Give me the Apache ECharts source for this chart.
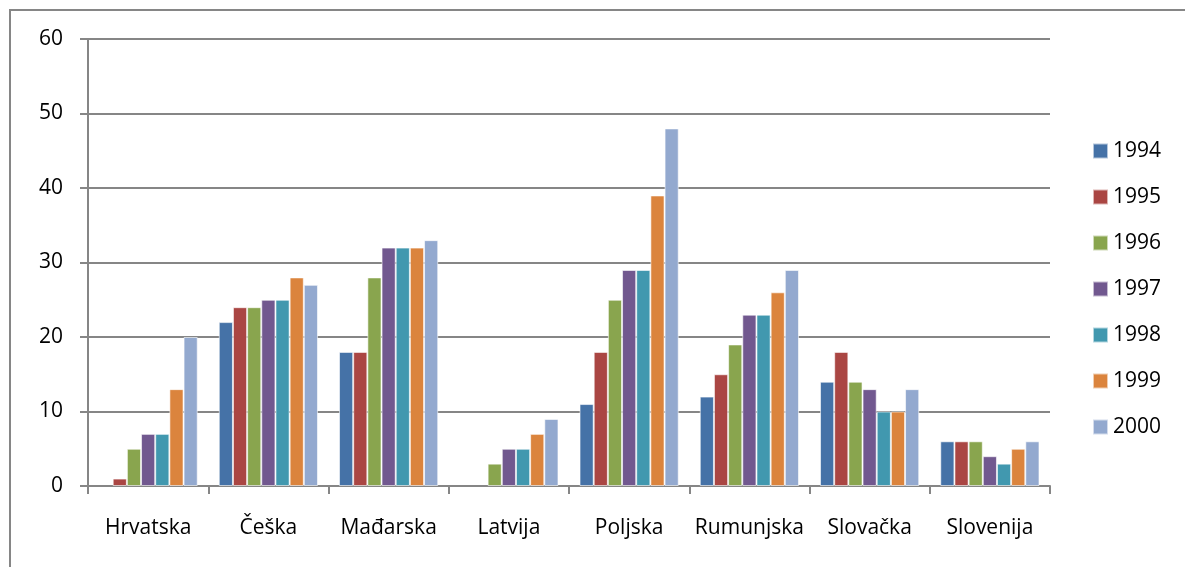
<!DOCTYPE html>
<html>
<head>
<meta charset="utf-8">
<script src="https://cdn.jsdelivr.net/npm/echarts@6/dist/echarts.min.js"></script>
<style>
  html, body { margin: 0; padding: 0; background: #fff; }
  #chart { width: 1185px; height: 567px; }
</style>
</head>
<body>
<div id="chart"></div>
<script>
const countries = ['Hrvatska', 'Češka', 'Mađarska', 'Latvija', 'Poljska', 'Rumunjska', 'Slovačka', 'Slovenija'];
const years = ['1994', '1995', '1996', '1997', '1998', '1999', '2000'];
const colors = ['#4572A7', '#AA4643', '#89A54E', '#71588F', '#4198AF', '#DB843D', '#93A9CF'];

// one array per year, values in country order
const y1994 = [0, 22, 18, 0, 11, 12, 14, 6];
const y1995 = [1, 24, 18, 0, 18, 15, 18, 6];
const y1996 = [5, 24, 28, 3, 25, 19, 14, 6];
const y1997 = [7, 25, 32, 5, 29, 23, 13, 4];
const y1998 = [7, 25, 32, 5, 29, 23, 10, 3];
const y1999 = [13, 28, 32, 7, 39, 26, 10, 5];
const y2000 = [20, 27, 33, 9, 48, 29, 13, 6];
const yearData = [y1994, y1995, y1996, y1997, y1998, y1999, y2000];

const font = '"Open Sans", sans-serif';
const gray = '#868686';

const chart = echarts.init(document.getElementById('chart'));

chart.setOption({
  animation: false,
  color: colors,
  textStyle: { fontFamily: font },
  graphic: [{
    type: 'rect',
    shape: { x: 10, y: 10, width: 1400, height: 800 },
    style: { fill: 'none', stroke: gray, lineWidth: 2 },
    silent: true
  }],
  grid: { left: 88, right: 135, top: 39, bottom: 81 },
  legend: {
    orient: 'vertical',
    left: 1092,
    top: 140,
    padding: 0,
    icon: 'rect',
    itemWidth: 15,
    itemHeight: 15,
    itemGap: 24,
    textStyle: { fontSize: 21, lineHeight: 22, color: '#000', fontFamily: font },
    data: years
  },
  xAxis: {
    type: 'category',
    data: countries,
    axisLine: { lineStyle: { color: gray, width: 2 } },
    axisTick: { show: true, length: 8, lineStyle: { color: gray, width: 2 } },
    axisLabel: { interval: 0, hideOverlap: false, fontSize: 21, color: '#000', margin: 32, fontFamily: font }
  },
  yAxis: {
    type: 'value',
    min: 0,
    max: 60,
    interval: 10,
    axisLine: { show: true, lineStyle: { color: gray, width: 2 } },
    axisTick: { show: true, length: 8, lineStyle: { color: gray, width: 2 } },
    axisLabel: { fontSize: 21, color: '#000', margin: 25, fontFamily: font },
    splitLine: { lineStyle: { color: gray, width: 2 } }
  },
  series: years.map((yr, i) => ({
    name: yr,
    type: 'bar',
    data: yearData[i].map(v => ({
      value: v,
      // zero bars draw nothing, not even their edge
      itemStyle: v === 0 ? { borderWidth: 0 } : undefined
    })),
    barGap: '0%',
    barCategoryGap: '17.5%',
    itemStyle: { color: colors[i], borderColor: 'rgba(255,255,255,0.6)', borderWidth: 1 }
  }))
});
</script>
</body>
</html>
